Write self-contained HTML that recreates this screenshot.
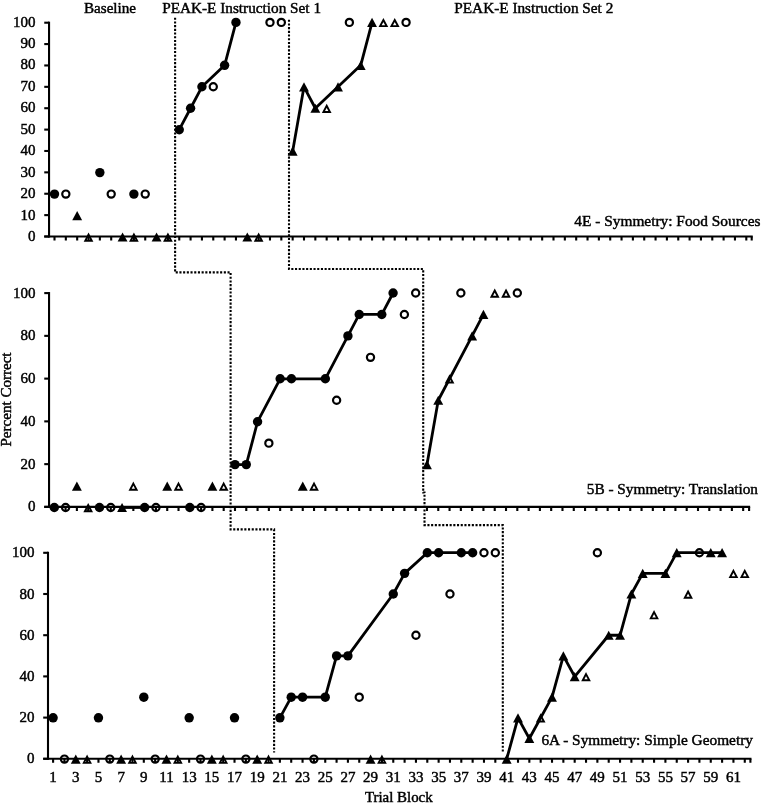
<!DOCTYPE html>
<html><head><meta charset="utf-8"><title>Chart</title>
<style>
html,body{margin:0;padding:0;background:#fff;}
body{width:762px;height:804px;overflow:hidden;}
svg{display:block;will-change:transform;}
.t{font-family:"Liberation Serif", serif;font-size:15px;fill:#000;stroke:#000;stroke-width:0.45px;}
</style></head>
<body>
<svg width="762" height="804" viewBox="0 0 762 804">
<rect width="762" height="804" fill="#fff"/>
<line x1="49.05" y1="21.65" x2="49.05" y2="237.55" stroke="#000" stroke-width="2.1"/>
<line x1="44.25" y1="236.5" x2="752.75" y2="236.5" stroke="#000" stroke-width="2.1"/>
<line x1="44.25" y1="236.5" x2="49.05" y2="236.5" stroke="#000" stroke-width="2.1"/>
<text x="35.6" y="241.1" text-anchor="end" class="t">0</text>
<line x1="44.25" y1="215.12" x2="49.05" y2="215.12" stroke="#000" stroke-width="2.1"/>
<text x="35.6" y="219.64" text-anchor="end" class="t">10</text>
<line x1="44.25" y1="193.74" x2="49.05" y2="193.74" stroke="#000" stroke-width="2.1"/>
<text x="35.6" y="198.18" text-anchor="end" class="t">20</text>
<line x1="44.25" y1="172.36" x2="49.05" y2="172.36" stroke="#000" stroke-width="2.1"/>
<text x="35.6" y="176.72" text-anchor="end" class="t">30</text>
<line x1="44.25" y1="150.98" x2="49.05" y2="150.98" stroke="#000" stroke-width="2.1"/>
<text x="35.6" y="155.26" text-anchor="end" class="t">40</text>
<line x1="44.25" y1="129.6" x2="49.05" y2="129.6" stroke="#000" stroke-width="2.1"/>
<text x="35.6" y="133.8" text-anchor="end" class="t">50</text>
<line x1="44.25" y1="108.22" x2="49.05" y2="108.22" stroke="#000" stroke-width="2.1"/>
<text x="35.6" y="112.34" text-anchor="end" class="t">60</text>
<line x1="44.25" y1="86.84" x2="49.05" y2="86.84" stroke="#000" stroke-width="2.1"/>
<text x="35.6" y="90.88" text-anchor="end" class="t">70</text>
<line x1="44.25" y1="65.46" x2="49.05" y2="65.46" stroke="#000" stroke-width="2.1"/>
<text x="35.6" y="69.42" text-anchor="end" class="t">80</text>
<line x1="44.25" y1="44.08" x2="49.05" y2="44.08" stroke="#000" stroke-width="2.1"/>
<text x="35.6" y="47.96" text-anchor="end" class="t">90</text>
<line x1="44.25" y1="22.7" x2="49.05" y2="22.7" stroke="#000" stroke-width="2.1"/>
<text x="35.6" y="26.5" text-anchor="end" class="t">100</text>
<path d="M54.5 236.5v4.05M65.84 236.5v4.05M77.18 236.5v4.05M88.52 236.5v4.05M99.86 236.5v4.05M111.2 236.5v4.05M122.55 236.5v4.05M133.89 236.5v4.05M145.23 236.5v4.05M156.57 236.5v4.05M167.91 236.5v4.05M179.25 236.5v4.05M190.59 236.5v4.05M201.93 236.5v4.05M213.27 236.5v4.05M224.61 236.5v4.05M235.96 236.5v4.05M247.3 236.5v4.05M258.64 236.5v4.05M269.98 236.5v4.05M281.32 236.5v4.05M292.66 236.5v4.05M304 236.5v4.05M315.34 236.5v4.05M326.68 236.5v4.05M338.02 236.5v4.05M349.37 236.5v4.05M360.71 236.5v4.05M372.05 236.5v4.05M383.39 236.5v4.05M394.73 236.5v4.05M406.07 236.5v4.05M417.41 236.5v4.05M428.75 236.5v4.05M440.09 236.5v4.05M451.44 236.5v4.05M462.78 236.5v4.05M474.12 236.5v4.05M485.46 236.5v4.05M496.8 236.5v4.05M508.14 236.5v4.05M519.48 236.5v4.05M530.82 236.5v4.05M542.16 236.5v4.05M553.5 236.5v4.05M564.85 236.5v4.05M576.19 236.5v4.05M587.53 236.5v4.05M598.87 236.5v4.05M610.21 236.5v4.05M621.55 236.5v4.05M632.89 236.5v4.05M644.23 236.5v4.05M655.57 236.5v4.05M666.91 236.5v4.05M678.25 236.5v4.05M689.6 236.5v4.05M700.94 236.5v4.05M712.28 236.5v4.05M723.62 236.5v4.05M734.96 236.5v4.05M746.3 236.5v4.05M751.7 236.5v4.05" stroke="#000" stroke-width="2.1" fill="none"/>
<line x1="49.05" y1="292.05" x2="49.05" y2="507.95" stroke="#000" stroke-width="2.1"/>
<line x1="44.25" y1="506.9" x2="750.15" y2="506.9" stroke="#000" stroke-width="2.1"/>
<line x1="44.25" y1="506.9" x2="49.05" y2="506.9" stroke="#000" stroke-width="2.1"/>
<text x="35.6" y="511.4" text-anchor="end" class="t">0</text>
<line x1="44.25" y1="464.14" x2="49.05" y2="464.14" stroke="#000" stroke-width="2.1"/>
<text x="35.6" y="468.64" text-anchor="end" class="t">20</text>
<line x1="44.25" y1="421.38" x2="49.05" y2="421.38" stroke="#000" stroke-width="2.1"/>
<text x="35.6" y="425.88" text-anchor="end" class="t">40</text>
<line x1="44.25" y1="378.62" x2="49.05" y2="378.62" stroke="#000" stroke-width="2.1"/>
<text x="35.6" y="383.12" text-anchor="end" class="t">60</text>
<line x1="44.25" y1="335.86" x2="49.05" y2="335.86" stroke="#000" stroke-width="2.1"/>
<text x="35.6" y="340.36" text-anchor="end" class="t">80</text>
<line x1="44.25" y1="293.1" x2="49.05" y2="293.1" stroke="#000" stroke-width="2.1"/>
<text x="35.6" y="297.6" text-anchor="end" class="t">100</text>
<path d="M54.3 506.9v4.05M65.59 506.9v4.05M76.89 506.9v4.05M88.18 506.9v4.05M99.47 506.9v4.05M110.76 506.9v4.05M122.06 506.9v4.05M133.35 506.9v4.05M144.64 506.9v4.05M155.94 506.9v4.05M167.23 506.9v4.05M178.52 506.9v4.05M189.82 506.9v4.05M201.11 506.9v4.05M212.4 506.9v4.05M223.69 506.9v4.05M234.99 506.9v4.05M246.28 506.9v4.05M257.57 506.9v4.05M268.87 506.9v4.05M280.16 506.9v4.05M291.45 506.9v4.05M302.75 506.9v4.05M314.04 506.9v4.05M325.33 506.9v4.05M336.62 506.9v4.05M347.92 506.9v4.05M359.21 506.9v4.05M370.5 506.9v4.05M381.8 506.9v4.05M393.09 506.9v4.05M404.38 506.9v4.05M415.68 506.9v4.05M426.97 506.9v4.05M438.26 506.9v4.05M449.56 506.9v4.05M460.85 506.9v4.05M472.14 506.9v4.05M483.43 506.9v4.05M494.73 506.9v4.05M506.02 506.9v4.05M517.31 506.9v4.05M528.61 506.9v4.05M539.9 506.9v4.05M551.19 506.9v4.05M562.48 506.9v4.05M573.78 506.9v4.05M585.07 506.9v4.05M596.36 506.9v4.05M607.66 506.9v4.05M618.95 506.9v4.05M630.24 506.9v4.05M641.54 506.9v4.05M652.83 506.9v4.05M664.12 506.9v4.05M675.41 506.9v4.05M686.71 506.9v4.05M698 506.9v4.05M709.29 506.9v4.05M720.59 506.9v4.05M731.88 506.9v4.05M743.17 506.9v4.05M749.1 506.9v4.05" stroke="#000" stroke-width="2.1" fill="none"/>
<line x1="48" y1="551.75" x2="48" y2="759.85" stroke="#000" stroke-width="2.1"/>
<line x1="43.2" y1="758.8" x2="751.45" y2="758.8" stroke="#000" stroke-width="2.1"/>
<line x1="43.2" y1="758.8" x2="48" y2="758.8" stroke="#000" stroke-width="2.1"/>
<text x="34.6" y="763.3" text-anchor="end" class="t">0</text>
<line x1="43.2" y1="717.6" x2="48" y2="717.6" stroke="#000" stroke-width="2.1"/>
<text x="34.6" y="722.1" text-anchor="end" class="t">20</text>
<line x1="43.2" y1="676.4" x2="48" y2="676.4" stroke="#000" stroke-width="2.1"/>
<text x="34.6" y="680.9" text-anchor="end" class="t">40</text>
<line x1="43.2" y1="635.2" x2="48" y2="635.2" stroke="#000" stroke-width="2.1"/>
<text x="34.6" y="639.7" text-anchor="end" class="t">60</text>
<line x1="43.2" y1="594" x2="48" y2="594" stroke="#000" stroke-width="2.1"/>
<text x="34.6" y="598.5" text-anchor="end" class="t">80</text>
<line x1="43.2" y1="552.8" x2="48" y2="552.8" stroke="#000" stroke-width="2.1"/>
<text x="34.6" y="557.3" text-anchor="end" class="t">100</text>
<path d="M53.1 758.8v4.05M64.44 758.8v4.05M75.78 758.8v4.05M87.12 758.8v4.05M98.46 758.8v4.05M109.8 758.8v4.05M121.13 758.8v4.05M132.47 758.8v4.05M143.81 758.8v4.05M155.15 758.8v4.05M166.49 758.8v4.05M177.83 758.8v4.05M189.17 758.8v4.05M200.51 758.8v4.05M211.85 758.8v4.05M223.19 758.8v4.05M234.52 758.8v4.05M245.86 758.8v4.05M257.2 758.8v4.05M268.54 758.8v4.05M279.88 758.8v4.05M291.22 758.8v4.05M302.56 758.8v4.05M313.9 758.8v4.05M325.24 758.8v4.05M336.58 758.8v4.05M347.91 758.8v4.05M359.25 758.8v4.05M370.59 758.8v4.05M381.93 758.8v4.05M393.27 758.8v4.05M404.61 758.8v4.05M415.95 758.8v4.05M427.29 758.8v4.05M438.63 758.8v4.05M449.97 758.8v4.05M461.3 758.8v4.05M472.64 758.8v4.05M483.98 758.8v4.05M495.32 758.8v4.05M506.66 758.8v4.05M518 758.8v4.05M529.34 758.8v4.05M540.68 758.8v4.05M552.02 758.8v4.05M563.36 758.8v4.05M574.69 758.8v4.05M586.03 758.8v4.05M597.37 758.8v4.05M608.71 758.8v4.05M620.05 758.8v4.05M631.39 758.8v4.05M642.73 758.8v4.05M654.07 758.8v4.05M665.41 758.8v4.05M676.75 758.8v4.05M688.08 758.8v4.05M699.42 758.8v4.05M710.76 758.8v4.05M722.1 758.8v4.05M733.44 758.8v4.05M744.78 758.8v4.05M750.4 758.8v4.05" stroke="#000" stroke-width="2.1" fill="none"/>
<text x="53.1" y="782.1" text-anchor="middle" class="t">1</text>
<text x="75.78" y="782.1" text-anchor="middle" class="t">3</text>
<text x="98.46" y="782.1" text-anchor="middle" class="t">5</text>
<text x="121.13" y="782.1" text-anchor="middle" class="t">7</text>
<text x="143.81" y="782.1" text-anchor="middle" class="t">9</text>
<text x="166.49" y="782.1" text-anchor="middle" class="t">11</text>
<text x="189.17" y="782.1" text-anchor="middle" class="t">13</text>
<text x="211.85" y="782.1" text-anchor="middle" class="t">15</text>
<text x="234.52" y="782.1" text-anchor="middle" class="t">17</text>
<text x="257.2" y="782.1" text-anchor="middle" class="t">19</text>
<text x="279.88" y="782.1" text-anchor="middle" class="t">21</text>
<text x="302.56" y="782.1" text-anchor="middle" class="t">23</text>
<text x="325.24" y="782.1" text-anchor="middle" class="t">25</text>
<text x="347.91" y="782.1" text-anchor="middle" class="t">27</text>
<text x="370.59" y="782.1" text-anchor="middle" class="t">29</text>
<text x="393.27" y="782.1" text-anchor="middle" class="t">31</text>
<text x="415.95" y="782.1" text-anchor="middle" class="t">33</text>
<text x="438.63" y="782.1" text-anchor="middle" class="t">35</text>
<text x="461.3" y="782.1" text-anchor="middle" class="t">37</text>
<text x="483.98" y="782.1" text-anchor="middle" class="t">39</text>
<text x="506.66" y="782.1" text-anchor="middle" class="t">41</text>
<text x="529.34" y="782.1" text-anchor="middle" class="t">43</text>
<text x="552.02" y="782.1" text-anchor="middle" class="t">45</text>
<text x="574.69" y="782.1" text-anchor="middle" class="t">47</text>
<text x="597.37" y="782.1" text-anchor="middle" class="t">49</text>
<text x="620.05" y="782.1" text-anchor="middle" class="t">51</text>
<text x="642.73" y="782.1" text-anchor="middle" class="t">53</text>
<text x="665.41" y="782.1" text-anchor="middle" class="t">55</text>
<text x="688.08" y="782.1" text-anchor="middle" class="t">57</text>
<text x="710.76" y="782.1" text-anchor="middle" class="t">59</text>
<text x="733.44" y="782.1" text-anchor="middle" class="t">61</text>
<path d="M175.1 17.7V272.4H230.6V529.4H274.1V752.5" stroke="#000" stroke-width="2.1" stroke-dasharray="2.1 1.6" fill="none"/>
<path d="M289 19.7V269H423.2V492.5H424.5V525.1H502.8V753" stroke="#000" stroke-width="2.1" stroke-dasharray="2.1 1.6" fill="none"/>
<polyline points="179.25,129.7 190.59,108.24 201.93,86.78 224.61,65.32 235.96,22.4" fill="none" stroke="#000" stroke-width="2.8" stroke-linejoin="round"/>
<polyline points="292.66,151.16 304,86.78 315.34,108.24 338.02,86.78 360.71,65.32 372.05,22.4" fill="none" stroke="#000" stroke-width="2.8" stroke-linejoin="round"/>
<polyline points="122.06,507.5 144.64,507.5" fill="none" stroke="#000" stroke-width="2.8" stroke-linejoin="round"/>
<polyline points="234.99,464.6 246.28,464.6 257.57,421.7 280.16,378.8 291.45,378.8 325.33,378.8 347.92,335.9 359.21,314.45 381.8,314.45 393.09,293" fill="none" stroke="#000" stroke-width="2.8" stroke-linejoin="round"/>
<polyline points="426.97,464.6 438.26,400.25 472.14,335.9 483.43,314.45" fill="none" stroke="#000" stroke-width="2.8" stroke-linejoin="round"/>
<polyline points="279.88,717.82 291.22,697.18 302.56,697.18 325.24,697.18 336.58,655.9 347.91,655.9 393.27,593.98 404.61,573.34 427.29,552.7 438.63,552.7 461.3,552.7 472.64,552.7" fill="none" stroke="#000" stroke-width="2.8" stroke-linejoin="round"/>
<polyline points="506.66,759.1 518,717.82 529.34,738.46 552.02,697.18 563.36,655.9 574.69,676.54 608.71,635.26 620.05,635.26 631.39,593.98 642.73,573.34 665.41,573.34 676.75,552.7 710.76,552.7 722.1,552.7" fill="none" stroke="#000" stroke-width="2.8" stroke-linejoin="round"/>
<circle cx="54.5" cy="194.08" r="4.7" fill="#000"/>
<circle cx="99.86" cy="172.62" r="4.7" fill="#000"/>
<circle cx="133.89" cy="194.08" r="4.7" fill="#000"/>
<circle cx="179.25" cy="129.7" r="4.7" fill="#000"/>
<circle cx="190.59" cy="108.24" r="4.7" fill="#000"/>
<circle cx="201.93" cy="86.78" r="4.7" fill="#000"/>
<circle cx="224.61" cy="65.32" r="4.7" fill="#000"/>
<circle cx="235.96" cy="22.4" r="4.7" fill="#000"/>
<circle cx="65.84" cy="194.08" r="3.6" fill="none" stroke="#000" stroke-width="2.2"/>
<circle cx="111.2" cy="194.08" r="3.6" fill="none" stroke="#000" stroke-width="2.2"/>
<circle cx="145.23" cy="194.08" r="3.6" fill="none" stroke="#000" stroke-width="2.2"/>
<circle cx="213.27" cy="86.78" r="3.6" fill="none" stroke="#000" stroke-width="2.2"/>
<circle cx="269.98" cy="22.4" r="3.6" fill="none" stroke="#000" stroke-width="2.2"/>
<circle cx="281.32" cy="22.4" r="3.6" fill="none" stroke="#000" stroke-width="2.2"/>
<circle cx="349.37" cy="22.4" r="3.6" fill="none" stroke="#000" stroke-width="2.2"/>
<circle cx="406.07" cy="22.4" r="3.6" fill="none" stroke="#000" stroke-width="2.2"/>
<path d="M77.18 210.94L82.13 220.14H72.23Z" fill="#000"/>
<path d="M122.55 232.4L127.5 241.6H117.6Z" fill="#000"/>
<path d="M156.57 232.4L161.52 241.6H151.62Z" fill="#000"/>
<path d="M247.3 232.4L252.25 241.6H242.35Z" fill="#000"/>
<path d="M292.66 146.56L297.61 155.76H287.71Z" fill="#000"/>
<path d="M304 82.18L308.95 91.38H299.05Z" fill="#000"/>
<path d="M315.34 103.64L320.29 112.84H310.39Z" fill="#000"/>
<path d="M338.02 82.18L342.97 91.38H333.07Z" fill="#000"/>
<path d="M360.71 60.72L365.66 69.92H355.76Z" fill="#000"/>
<path d="M372.05 17.8L377 27H367.1Z" fill="#000"/>
<path d="M88.52 234.54L91.8 240.75L85.25 240.75Z" fill="none" stroke="#000" stroke-width="1.9" stroke-linejoin="miter"/>
<path d="M133.89 234.54L137.16 240.75L130.61 240.75Z" fill="none" stroke="#000" stroke-width="1.9" stroke-linejoin="miter"/>
<path d="M167.91 234.54L171.19 240.75L164.63 240.75Z" fill="none" stroke="#000" stroke-width="1.9" stroke-linejoin="miter"/>
<path d="M258.64 234.54L261.91 240.75L255.36 240.75Z" fill="none" stroke="#000" stroke-width="1.9" stroke-linejoin="miter"/>
<path d="M326.68 105.78L329.96 111.99L323.41 111.99Z" fill="none" stroke="#000" stroke-width="1.9" stroke-linejoin="miter"/>
<path d="M383.39 19.94L386.66 26.15L380.11 26.15Z" fill="none" stroke="#000" stroke-width="1.9" stroke-linejoin="miter"/>
<path d="M394.73 19.94L398.01 26.15L391.45 26.15Z" fill="none" stroke="#000" stroke-width="1.9" stroke-linejoin="miter"/>
<circle cx="54.3" cy="507.5" r="4.7" fill="#000"/>
<circle cx="99.47" cy="507.5" r="4.7" fill="#000"/>
<circle cx="144.64" cy="507.5" r="4.7" fill="#000"/>
<circle cx="189.82" cy="507.5" r="4.7" fill="#000"/>
<circle cx="234.99" cy="464.6" r="4.7" fill="#000"/>
<circle cx="246.28" cy="464.6" r="4.7" fill="#000"/>
<circle cx="257.57" cy="421.7" r="4.7" fill="#000"/>
<circle cx="280.16" cy="378.8" r="4.7" fill="#000"/>
<circle cx="291.45" cy="378.8" r="4.7" fill="#000"/>
<circle cx="325.33" cy="378.8" r="4.7" fill="#000"/>
<circle cx="347.92" cy="335.9" r="4.7" fill="#000"/>
<circle cx="359.21" cy="314.45" r="4.7" fill="#000"/>
<circle cx="381.8" cy="314.45" r="4.7" fill="#000"/>
<circle cx="393.09" cy="293" r="4.7" fill="#000"/>
<circle cx="65.59" cy="507.5" r="3.6" fill="none" stroke="#000" stroke-width="2.2"/>
<circle cx="110.76" cy="507.5" r="3.6" fill="none" stroke="#000" stroke-width="2.2"/>
<circle cx="155.94" cy="507.5" r="3.6" fill="none" stroke="#000" stroke-width="2.2"/>
<circle cx="201.11" cy="507.5" r="3.6" fill="none" stroke="#000" stroke-width="2.2"/>
<circle cx="268.87" cy="443.15" r="3.6" fill="none" stroke="#000" stroke-width="2.2"/>
<circle cx="336.62" cy="400.25" r="3.6" fill="none" stroke="#000" stroke-width="2.2"/>
<circle cx="370.5" cy="357.35" r="3.6" fill="none" stroke="#000" stroke-width="2.2"/>
<circle cx="404.38" cy="314.45" r="3.6" fill="none" stroke="#000" stroke-width="2.2"/>
<circle cx="415.68" cy="293" r="3.6" fill="none" stroke="#000" stroke-width="2.2"/>
<circle cx="460.85" cy="293" r="3.6" fill="none" stroke="#000" stroke-width="2.2"/>
<circle cx="517.31" cy="293" r="3.6" fill="none" stroke="#000" stroke-width="2.2"/>
<path d="M76.89 481.45L81.84 490.65H71.94Z" fill="#000"/>
<path d="M122.06 502.9L127.01 512.1H117.11Z" fill="#000"/>
<path d="M167.23 481.45L172.18 490.65H162.28Z" fill="#000"/>
<path d="M212.4 481.45L217.35 490.65H207.45Z" fill="#000"/>
<path d="M302.75 481.45L307.7 490.65H297.8Z" fill="#000"/>
<path d="M426.97 460L431.92 469.2H422.02Z" fill="#000"/>
<path d="M438.26 395.65L443.21 404.85H433.31Z" fill="#000"/>
<path d="M472.14 331.3L477.09 340.5H467.19Z" fill="#000"/>
<path d="M483.43 309.85L488.38 319.05H478.48Z" fill="#000"/>
<path d="M88.18 505.04L91.45 511.25L84.9 511.25Z" fill="none" stroke="#000" stroke-width="1.9" stroke-linejoin="miter"/>
<path d="M133.35 483.59L136.63 489.8L130.08 489.8Z" fill="none" stroke="#000" stroke-width="1.9" stroke-linejoin="miter"/>
<path d="M178.52 483.59L181.8 489.8L175.25 489.8Z" fill="none" stroke="#000" stroke-width="1.9" stroke-linejoin="miter"/>
<path d="M223.69 483.59L226.97 489.8L220.42 489.8Z" fill="none" stroke="#000" stroke-width="1.9" stroke-linejoin="miter"/>
<path d="M314.04 483.59L317.31 489.8L310.76 489.8Z" fill="none" stroke="#000" stroke-width="1.9" stroke-linejoin="miter"/>
<path d="M449.56 376.34L452.83 382.55L446.28 382.55Z" fill="none" stroke="#000" stroke-width="1.9" stroke-linejoin="miter"/>
<path d="M494.73 290.54L498 296.75L491.45 296.75Z" fill="none" stroke="#000" stroke-width="1.9" stroke-linejoin="miter"/>
<path d="M506.02 290.54L509.3 296.75L502.74 296.75Z" fill="none" stroke="#000" stroke-width="1.9" stroke-linejoin="miter"/>
<circle cx="53.1" cy="717.82" r="4.7" fill="#000"/>
<circle cx="98.46" cy="717.82" r="4.7" fill="#000"/>
<circle cx="143.81" cy="697.18" r="4.7" fill="#000"/>
<circle cx="189.17" cy="717.82" r="4.7" fill="#000"/>
<circle cx="234.52" cy="717.82" r="4.7" fill="#000"/>
<circle cx="279.88" cy="717.82" r="4.7" fill="#000"/>
<circle cx="291.22" cy="697.18" r="4.7" fill="#000"/>
<circle cx="302.56" cy="697.18" r="4.7" fill="#000"/>
<circle cx="325.24" cy="697.18" r="4.7" fill="#000"/>
<circle cx="336.58" cy="655.9" r="4.7" fill="#000"/>
<circle cx="347.91" cy="655.9" r="4.7" fill="#000"/>
<circle cx="393.27" cy="593.98" r="4.7" fill="#000"/>
<circle cx="404.61" cy="573.34" r="4.7" fill="#000"/>
<circle cx="427.29" cy="552.7" r="4.7" fill="#000"/>
<circle cx="438.63" cy="552.7" r="4.7" fill="#000"/>
<circle cx="461.3" cy="552.7" r="4.7" fill="#000"/>
<circle cx="472.64" cy="552.7" r="4.7" fill="#000"/>
<circle cx="64.44" cy="759.1" r="3.6" fill="none" stroke="#000" stroke-width="2.2"/>
<circle cx="109.8" cy="759.1" r="3.6" fill="none" stroke="#000" stroke-width="2.2"/>
<circle cx="155.15" cy="759.1" r="3.6" fill="none" stroke="#000" stroke-width="2.2"/>
<circle cx="200.51" cy="759.1" r="3.6" fill="none" stroke="#000" stroke-width="2.2"/>
<circle cx="245.86" cy="759.1" r="3.6" fill="none" stroke="#000" stroke-width="2.2"/>
<circle cx="313.9" cy="759.1" r="3.6" fill="none" stroke="#000" stroke-width="2.2"/>
<circle cx="359.25" cy="697.18" r="3.6" fill="none" stroke="#000" stroke-width="2.2"/>
<circle cx="415.95" cy="635.26" r="3.6" fill="none" stroke="#000" stroke-width="2.2"/>
<circle cx="449.97" cy="593.98" r="3.6" fill="none" stroke="#000" stroke-width="2.2"/>
<circle cx="483.98" cy="552.7" r="3.6" fill="none" stroke="#000" stroke-width="2.2"/>
<circle cx="495.32" cy="552.7" r="3.6" fill="none" stroke="#000" stroke-width="2.2"/>
<circle cx="597.37" cy="552.7" r="3.6" fill="none" stroke="#000" stroke-width="2.2"/>
<circle cx="699.42" cy="552.7" r="3.6" fill="none" stroke="#000" stroke-width="2.2"/>
<path d="M75.78 754.5L80.73 763.7H70.83Z" fill="#000"/>
<path d="M121.13 754.5L126.08 763.7H116.18Z" fill="#000"/>
<path d="M166.49 754.5L171.44 763.7H161.54Z" fill="#000"/>
<path d="M211.85 754.5L216.8 763.7H206.9Z" fill="#000"/>
<path d="M257.2 754.5L262.15 763.7H252.25Z" fill="#000"/>
<path d="M370.59 754.5L375.54 763.7H365.64Z" fill="#000"/>
<path d="M506.66 754.5L511.61 763.7H501.71Z" fill="#000"/>
<path d="M518 713.22L522.95 722.42H513.05Z" fill="#000"/>
<path d="M529.34 733.86L534.29 743.06H524.39Z" fill="#000"/>
<path d="M552.02 692.58L556.97 701.78H547.07Z" fill="#000"/>
<path d="M563.36 651.3L568.31 660.5H558.4Z" fill="#000"/>
<path d="M574.69 671.94L579.64 681.14H569.74Z" fill="#000"/>
<path d="M608.71 630.66L613.66 639.86H603.76Z" fill="#000"/>
<path d="M620.05 630.66L625 639.86H615.1Z" fill="#000"/>
<path d="M631.39 589.38L636.34 598.58H626.44Z" fill="#000"/>
<path d="M642.73 568.74L647.68 577.94H637.78Z" fill="#000"/>
<path d="M665.41 568.74L670.36 577.94H660.46Z" fill="#000"/>
<path d="M676.75 548.1L681.7 557.3H671.79Z" fill="#000"/>
<path d="M710.76 548.1L715.71 557.3H705.81Z" fill="#000"/>
<path d="M722.1 548.1L727.05 557.3H717.15Z" fill="#000"/>
<path d="M87.12 756.64L90.39 762.85L83.84 762.85Z" fill="none" stroke="#000" stroke-width="1.9" stroke-linejoin="miter"/>
<path d="M132.47 756.64L135.75 762.85L129.2 762.85Z" fill="none" stroke="#000" stroke-width="1.9" stroke-linejoin="miter"/>
<path d="M177.83 756.64L181.1 762.85L174.55 762.85Z" fill="none" stroke="#000" stroke-width="1.9" stroke-linejoin="miter"/>
<path d="M223.19 756.64L226.46 762.85L219.91 762.85Z" fill="none" stroke="#000" stroke-width="1.9" stroke-linejoin="miter"/>
<path d="M268.54 756.64L271.82 762.85L265.27 762.85Z" fill="none" stroke="#000" stroke-width="1.9" stroke-linejoin="miter"/>
<path d="M381.93 756.64L385.21 762.85L378.66 762.85Z" fill="none" stroke="#000" stroke-width="1.9" stroke-linejoin="miter"/>
<path d="M540.68 715.36L543.95 721.57L537.4 721.57Z" fill="none" stroke="#000" stroke-width="1.9" stroke-linejoin="miter"/>
<path d="M586.03 674.08L589.31 680.29L582.76 680.29Z" fill="none" stroke="#000" stroke-width="1.9" stroke-linejoin="miter"/>
<path d="M654.07 612.16L657.34 618.37L650.79 618.37Z" fill="none" stroke="#000" stroke-width="1.9" stroke-linejoin="miter"/>
<path d="M688.08 591.52L691.36 597.73L684.81 597.73Z" fill="none" stroke="#000" stroke-width="1.9" stroke-linejoin="miter"/>
<path d="M733.44 570.88L736.72 577.09L730.16 577.09Z" fill="none" stroke="#000" stroke-width="1.9" stroke-linejoin="miter"/>
<path d="M744.78 570.88L748.05 577.09L741.5 577.09Z" fill="none" stroke="#000" stroke-width="1.9" stroke-linejoin="miter"/>
<text x="84" y="12.6" class="t" style="font-size:15.1px">Baseline</text>
<text x="162.2" y="12.6" class="t" style="font-size:15.26px">PEAK-E Instruction Set 1</text>
<text x="454.3" y="12.6" class="t" style="font-size:15.27px">PEAK-E Instruction Set 2</text>
<text x="760.5" y="225.7" text-anchor="end" class="t" style="font-size:15.38px">4E - Symmetry: Food Sources</text>
<text x="758" y="494" text-anchor="end" class="t" style="font-size:15.3px">5B - Symmetry: Translation</text>
<text x="753" y="744.6" text-anchor="end" class="t" style="font-size:15.36px">6A - Symmetry: Simple Geometry</text>
<text transform="translate(11.1 399.5) rotate(-90)" text-anchor="middle" class="t" style="font-size:15.05px">Percent Correct</text>
<text x="398.8" y="801.7" text-anchor="middle" class="t" style="font-size:14.9px">Trial Block</text>
</svg>
</body></html>
